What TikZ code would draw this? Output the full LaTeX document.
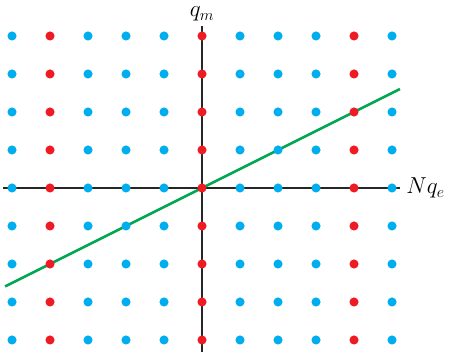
\documentclass[tikz,border=0pt]{standalone}
\usepackage{amsmath}
\usepackage{tikz}
\usepackage{xcolor}
\usetikzlibrary{positioning, calc}
\definecolor{cBlue}{RGB}{0,174,239}
\definecolor{cRed}{RGB}{237,28,36}
\definecolor{cGreen}{RGB}{0,166,81}
\tikzset{
	axis/.style    ={line width=1.9pt, draw=black!85},
	dotblue/.style ={circle, fill=cBlue, minimum size=0.24cm, inner sep=0pt},
	dotred/.style  ={circle, fill=cRed, minimum size=0.24cm, inner sep=0pt},
	slope/.style   ={line width=1.9pt, draw=cGreen},
}

\begin{document}
\begin{tikzpicture}[font=\fontsize{18}{20}\selectfont]
	\useasboundingbox (-5.316,-4.421) rectangle (6.526,4.947);
	% axes
	\coordinate (xl) at (-5.24,0); \coordinate (xr) at (5.21,0);
	\coordinate (yb) at (0,-4.32); \coordinate (yt) at (0,4.26);
	\draw[axis] (xl) -- (xr);
	\draw[axis] (yb) -- (yt);
	\node[right, inner sep=2pt] (qe) at (5.3,0) {$Nq_e$};
	\node[inner sep=1pt] (qm) at (0,4.58) {$q_m$};
	% green line through the lattice
	\coordinate (la) at (-5.18,-2.59); \coordinate (lb) at (5.21,2.605);
	\draw[slope] (la) -- (lb);
	% lattice points
	\foreach \i in {-5,...,5}{
		\foreach \j in {-4,...,4}{
			\pgfmathtruncatemacro{\m}{mod(abs(\i),4)}
			\ifnum\m=0
				\node[dotred] (p\i\j) at (\i,\j) {};
			\else
				\node[dotblue] (p\i\j) at (\i,\j) {};
			\fi
		}
	}
\end{tikzpicture}
\end{document}
